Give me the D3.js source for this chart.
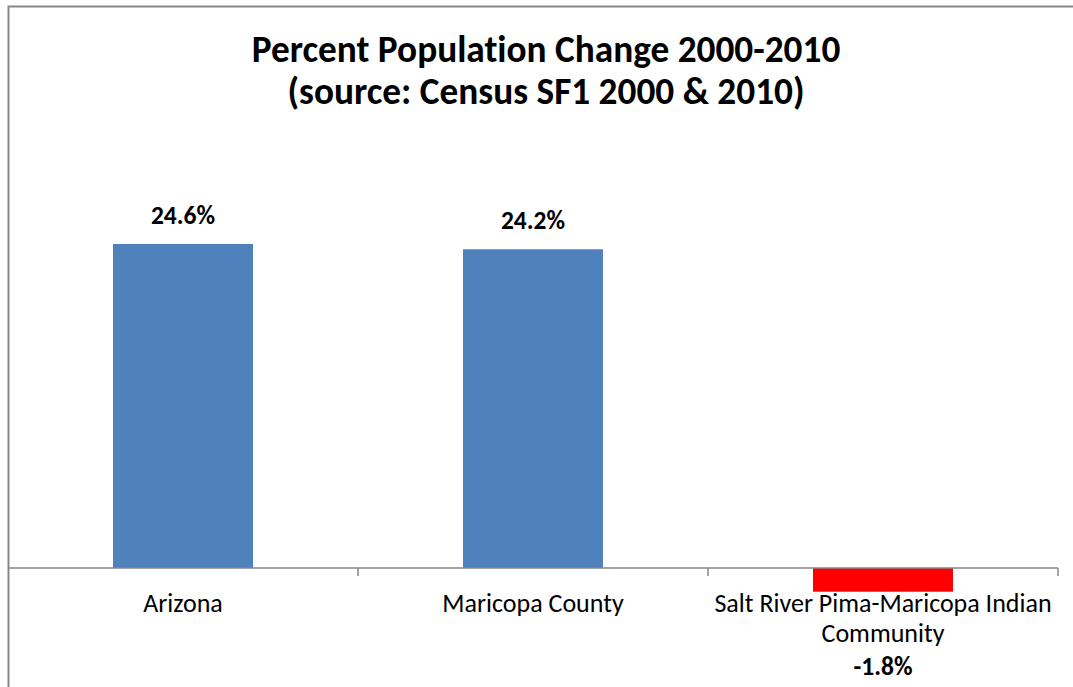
<!DOCTYPE html>
<html>
<head>
<meta charset="utf-8">
<script src="https://cdn.jsdelivr.net/npm/d3@7"></script>
<style>
  body { margin: 0; background: #fff; }
  svg text { font-family: Carlito, Calibri, Lato, "Open Sans", sans-serif; fill: #000; font-variant-ligatures: none; }
</style>
</head>
<body>
<svg id="chart" width="1073" height="687"></svg>
<script>
const categories = ["Arizona", "Maricopa County", "Salt River Pima-Maricopa Indian Community"];
const categoryLines = [["Arizona"], ["Maricopa County"], ["Salt River Pima-Maricopa Indian", "Community"]];
const values = [24.6, 24.2, -1.8];
const valueLabels = ["24.6%", "24.2%", "-1.8%"];
const titleLines = ["Percent Population Change 2000-2010", "(source: Census SF1 2000 & 2010)"];

const svg = d3.select("#chart");

// chart frame (only top and left edges are visible in the crop)
svg.append("path")
  .attr("d", "M8.5,687 V6.5 H1073")
  .attr("fill", "none")
  .attr("stroke", "#878787")
  .attr("stroke-width", 2);

const x = d3.scaleBand()
  .domain(categories)
  .range([8, 1058])
  .paddingInner(0.6)
  .paddingOuter(0.3);

const y = d3.scaleLinear()
  .domain([-1.8, 24.6])
  .range([591.7, 244]);

const title = svg.append("text")
  .attr("text-anchor", "middle")
  .style("font-weight", "bold")
  .style("font-size", "37.3px");
titleLines.forEach((t, i) => {
  title.append("tspan")
    .attr("x", 546)
    .attr("y", 62 + i * 42)
    .text(t);
});

svg.selectAll(".bar")
  .data(values)
  .enter()
  .append("rect")
  .attr("class", "bar")
  .attr("x", (d, i) => x(categories[i]))
  .attr("width", x.bandwidth())
  .attr("y", d => y(Math.max(0, d)))
  .attr("height", d => Math.abs(y(d) - y(0)))
  .attr("fill", d => d < 0 ? "#ff0000" : "#4f81bd");

// category axis
const step = x.step();
svg.append("line")
  .attr("x1", 8).attr("x2", 1058)
  .attr("y1", y(0)).attr("y2", y(0))
  .attr("stroke", "#878787")
  .attr("stroke-width", 1.5);

svg.selectAll(".tick")
  .data(categories)
  .enter()
  .append("line")
  .attr("class", "tick")
  .attr("x1", (d, i) => 8 + step * (i + 1))
  .attr("x2", (d, i) => 8 + step * (i + 1))
  .attr("y1", y(0))
  .attr("y2", y(0) + 8)
  .attr("stroke", "#878787")
  .attr("stroke-width", 1.5);

const catText = svg.selectAll(".cat")
  .data(categoryLines)
  .enter()
  .append("text")
  .attr("class", "cat")
  .attr("text-anchor", "middle")
  .style("font-size", "26px");
catText.each(function(lines, i) {
  const cx = 8 + step * (i + 0.5);
  lines.forEach((l, j) => {
    d3.select(this).append("tspan")
      .attr("x", cx)
      .attr("y", 612 + j * 30)
      .text(l);
  });
});

svg.selectAll(".val")
  .data(values)
  .enter()
  .append("text")
  .attr("class", "val")
  .attr("text-anchor", "middle")
  .style("font-weight", "bold")
  .style("font-size", "25.5px")
  .attr("x", (d, i) => x(categories[i]) + x.bandwidth() / 2)
  .attr("y", d => d < 0 ? y(d) + 83 : y(d) - 20)
  .text((d, i) => valueLabels[i]);
</script>
</body>
</html>
